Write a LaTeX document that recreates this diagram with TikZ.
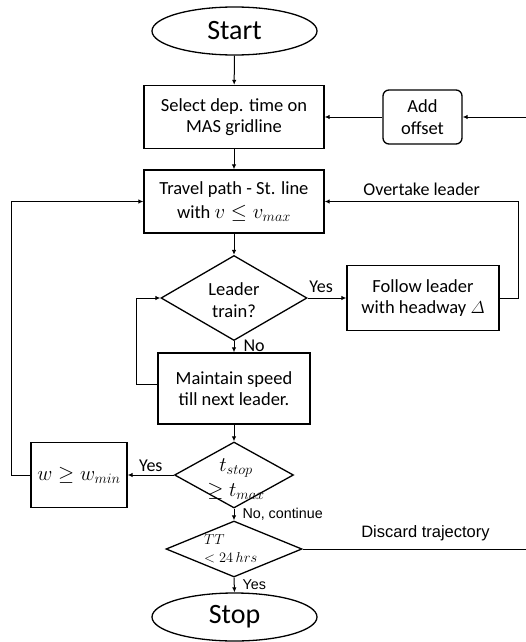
\documentclass[tikz,border=0pt]{standalone}
\usepackage{amsmath}
\usepackage{fontspec}
\setmainfont{Carlito}
\newfontfamily\arial{Liberation Sans}
\usetikzlibrary{shapes.geometric,arrows.meta}
\newcommand{\bigmath}[1]{{\fontsize{21}{22}\selectfont$#1$}}
\begin{document}
\begin{tikzpicture}[x=1pt,y=-1pt,
  box/.style={draw, line width=1.3pt, inner sep=0pt, align=center, font=\fontsize{18.5}{21.5}\selectfont},
  rbox/.style={box, rounded corners=6pt},
  term/.style={draw, line width=1.3pt, ellipse, inner sep=0pt, font=\fontsize{28}{30}\selectfont},
  dia/.style={draw, line width=1.3pt, diamond, inner sep=0pt},
  txt/.style={inner sep=0pt, align=center, font=\fontsize{18.5}{21.5}\selectfont},
  arr/.style={line width=1pt, -{Latex[length=5pt,width=4.5pt]}},
  ln/.style={line width=1pt},
  lbl/.style={inner sep=0pt, font=\fontsize{18}{20}\selectfont},
  albl/.style={inner sep=0pt, font=\arial\fontsize{14.3}{16}\selectfont}]
\useasboundingbox (0,0) rectangle (526,642);

\node[term, minimum width=165pt, minimum height=48pt] (start) at (234.5,31) {Start};
\node[box, minimum width=180pt, minimum height=63pt] (select) at (234,117) {Select dep. time on\\MAS gridline};
\node[rbox, minimum width=79pt, minimum height=54pt] (offset) at (422.5,117) {Add\\offset};
\coordinate (rin) at (526,117);
\node[box, minimum width=180pt, minimum height=63pt] (travel) at (234,201.5) {Travel path - St. line\\[3pt]with \bigmath{v \leq v_{max}}};
\node[dia, minimum width=146pt, minimum height=85pt] (d1) at (234,298) {};
\node[txt] at (234,300) {Leader\\train?};
\node[box, minimum width=152pt, minimum height=65pt] (follow) at (423,298) {Follow leader\\with headway $\varDelta$};
\node[box, minimum width=152pt, minimum height=71pt] (maintain) at (234,388.5) {Maintain speed\\till next leader.};
\node[dia, minimum width=119pt, minimum height=66pt] (d2) at (234,475) {};
\node[txt] at (236,479) {\bigmath{t_{stop}}\\[4pt]\bigmath{\geq t_{max}}};
\node[box, minimum width=96pt, minimum height=65pt] (wbox) at (79,475) {\bigmath{w \geq w_{min}}};
\node[dia, minimum width=136pt, minimum height=56pt] (d3) at (234,549) {};
\node[txt, anchor=west, align=left, font=\fontsize{15.5}{18}\selectfont] at (204,549) {$TT$\\$<24\,hrs$};
\coordinate (rout) at (526,549);
\node[term, minimum width=165pt, minimum height=48pt] (stop) at (234.5,617) {Stop};

\draw[arr] (start) -- (select);
\draw[arr] (select) -- (travel);
\draw[arr] (rin) -- (offset);
\draw[arr] (offset) -- (select);
\draw[arr] (travel) -- (d1);
\draw[arr] (d1.east) -- node[lbl, above=5pt, pos=0.35] {Yes} (follow.west);
\draw[arr] (follow.east) -- ++(19,0) |- node[lbl, pos=0.75, above=5pt] {Overtake leader} (travel.east);
\draw[arr] (d1.south) -- node[lbl, right=9pt, pos=0.45] {No} (maintain.north);
\draw[arr] ([yshift=4.5pt]maintain.west) -- ++(-21,0) |- (d1.west);
\draw[arr] (maintain) -- (d2);
\draw[arr] (d2.west) -- node[lbl, above=3pt, pos=0.5] {Yes} (wbox.east);
\draw[arr] (wbox.west) -- ++(-19,0) |- (travel.west);
\draw[arr] (d2.south) -- node[albl, right=8pt, pos=0.45] {No, continue} (d3.north);
\draw[ln] (d3.east) -- node[albl, font=\arial\fontsize{16.5}{18}\selectfont, above=8pt, pos=0.55] {Discard trajectory} (rout);
\draw[arr] (d3.south) -- node[albl, right=8pt, pos=0.45] {Yes} (stop.north);
\end{tikzpicture}
\end{document}
